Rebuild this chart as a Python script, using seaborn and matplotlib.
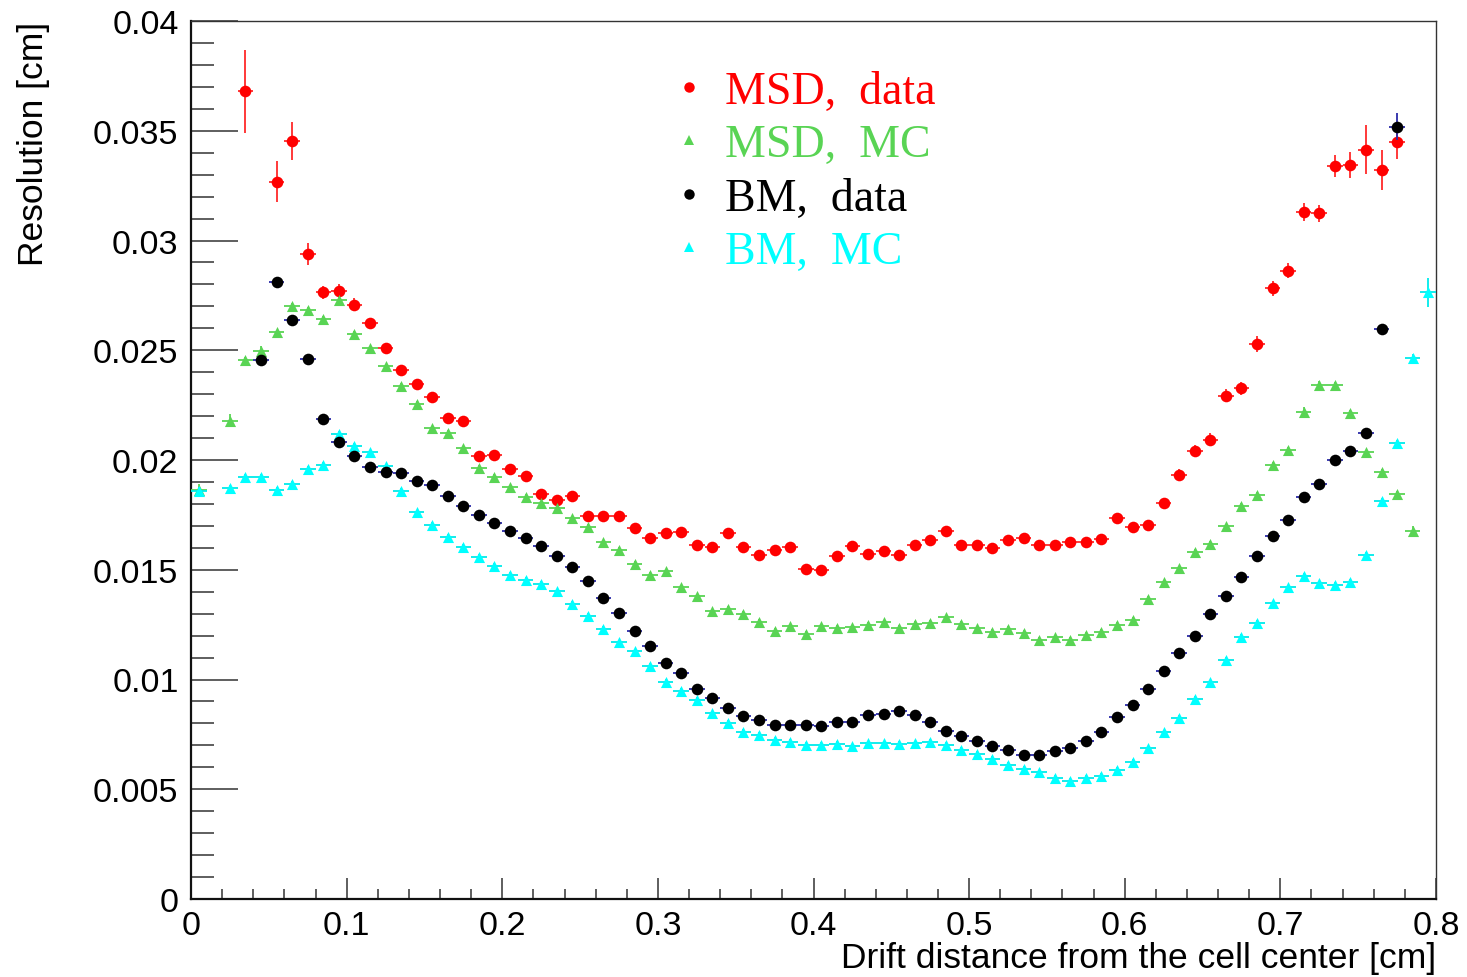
import numpy as np
import pandas as pd
import matplotlib
matplotlib.use("Agg")
import matplotlib.pyplot as plt
from matplotlib.lines import Line2D
from matplotlib.ticker import MultipleLocator, FuncFormatter
import seaborn as sns

nan = np.nan

# bin centres of the 80-bin histograms (cm)
bin_centers = [round(0.005 + 0.01 * i, 3) for i in range(80)]

msd_data = [nan, nan, nan, 0.0368, nan, 0.03268, 0.03455, 0.02938, 0.02764, 0.02771,
            0.02708, 0.02623, 0.02509, 0.02412, 0.02346, 0.02285, 0.02191, 0.02179, 0.0202, 0.02024,
            0.01959, 0.01926, 0.01845, 0.01818, 0.01837, 0.01746, 0.01746, 0.01746, 0.01689, 0.01643,
            0.01666, 0.0167, 0.01613, 0.01605, 0.01666, 0.01605, 0.01567, 0.0159, 0.01605, 0.01503,
            0.01499, 0.01561, 0.01606, 0.01572, 0.01584, 0.01567, 0.01613, 0.01637, 0.01678, 0.01613,
            0.01613, 0.01599, 0.01636, 0.01643, 0.01613, 0.01613, 0.01625, 0.01625, 0.0164, 0.01734,
            0.01693, 0.01704, 0.01803, 0.01932, 0.02042, 0.02093, 0.02293, 0.02326, 0.02528, 0.02782,
            0.02863, 0.03131, 0.03124, 0.03341, 0.03345, 0.03414, 0.03321, 0.03447, nan, nan]

msd_mc = [0.01865, nan, 0.02179, 0.02457, 0.02498, 0.02582, 0.02703, 0.02683, 0.02642, 0.02729,
          0.02574, 0.02509, 0.02427, 0.02339, 0.02255, 0.02144, 0.02124, 0.02053, 0.01964, 0.01924,
          0.01876, 0.01833, 0.01803, 0.0178, 0.01734, 0.01696, 0.01625, 0.0159, 0.01526, 0.01478,
          0.01493, 0.0142, 0.01379, 0.01311, 0.01321, 0.01298, 0.01263, 0.01222, 0.01242, 0.01207,
          0.01242, 0.01235, 0.01238, 0.01248, 0.01261, 0.01235, 0.01253, 0.01257, 0.01283, 0.01253,
          0.01233, 0.01218, 0.0123, 0.01212, 0.01181, 0.01192, 0.01181, 0.01203, 0.01218, 0.01248,
          0.01271, 0.01367, 0.01443, 0.01507, 0.01582, 0.01617, 0.01698, 0.01792, 0.01842, 0.01977,
          0.02047, 0.0222, 0.02342, 0.02342, 0.02214, 0.02035, 0.01947, 0.01845, 0.01678, nan]

bm_data = [nan, nan, nan, nan, 0.02457, 0.02809, 0.02638, 0.0246, 0.02187, 0.02081,
           0.02017, 0.01967, 0.01947, 0.01939, 0.01903, 0.01886, 0.01834, 0.01792, 0.01751, 0.01712,
           0.01678, 0.01643, 0.0161, 0.01564, 0.01511, 0.0145, 0.0137, 0.01302, 0.0122, 0.01154,
           0.01074, 0.01029, 0.00957, 0.00916, 0.0087, 0.00835, 0.00815, 0.00794, 0.00794, 0.00794,
           0.0079, 0.00805, 0.00808, 0.00838, 0.00843, 0.00855, 0.00838, 0.00808, 0.00767, 0.00744,
           0.00721, 0.00698, 0.0068, 0.00657, 0.00657, 0.00676, 0.00686, 0.00721, 0.00759, 0.00831,
           0.00884, 0.00957, 0.01038, 0.01121, 0.012, 0.01298, 0.01382, 0.01468, 0.01564, 0.01652,
           0.01728, 0.01833, 0.01891, 0.02001, 0.02042, 0.02123, 0.02597, 0.03519, nan, nan]

bm_mc = [0.01857, nan, 0.01872, 0.01924, 0.01924, 0.01865, 0.01891, 0.01959, 0.01977, 0.02118,
         0.02065, 0.02035, 0.01971, 0.0186, 0.01762, 0.01705, 0.01649, 0.01605, 0.0156, 0.01519,
         0.01478, 0.01453, 0.01435, 0.01402, 0.01344, 0.01291, 0.0123, 0.01169, 0.01128, 0.01063,
         0.0099, 0.00949, 0.00907, 0.00846, 0.00802, 0.00762, 0.00747, 0.00726, 0.00717, 0.00702,
         0.00702, 0.00706, 0.00696, 0.00709, 0.00709, 0.00706, 0.00709, 0.00717, 0.00703, 0.0068,
         0.00661, 0.00638, 0.0061, 0.00592, 0.00577, 0.00551, 0.00539, 0.00551, 0.00562, 0.00588,
         0.00626, 0.00686, 0.0076, 0.00824, 0.00911, 0.00987, 0.0109, 0.01195, 0.01257, 0.01347,
         0.0142, 0.01473, 0.01438, 0.01432, 0.01446, 0.01567, 0.01814, 0.02076, 0.02465, 0.02764]

# vertical (statistical) errors that are visible in the picture; others are small
small_err = 0.00012
msd_data_err = {3: 0.0019, 5: 0.00093, 6: 0.00087, 7: 0.0005, 8: 0.0003, 9: 0.0003, 10: 0.00028,
                11: 0.00025, 12: 0.0002, 62: 0.0002, 63: 0.00025, 64: 0.00025, 65: 0.0003,
                66: 0.0003, 67: 0.0003, 68: 0.00035, 69: 0.00035, 70: 0.00035, 71: 0.0004,
                72: 0.0004, 73: 0.0005, 74: 0.0006, 75: 0.0011, 76: 0.00093, 77: 0.00076}
msd_mc_err = {0: 0.00025, 2: 0.0003, 4: 0.0002, 71: 0.0002, 72: 0.0002, 78: 0.0002}
bm_data_err = {5: 0.00015, 76: 0.0002, 77: 0.00063}
bm_mc_err = {0: 0.0002, 77: 0.00015, 78: 0.0002, 79: 0.00065}

half_bin = 0.005

labels = ["MSD,  data", "MSD,  MC", "BM,  data", "BM,  MC"]
colors = {"MSD,  data": "#ff0000", "MSD,  MC": "#59d454", "BM,  data": "#000000", "BM,  MC": "#00ffff"}
bar_colors = {"MSD,  data": "#ff2a2a", "MSD,  MC": "#59d454", "BM,  data": "#2b2ba8", "BM,  MC": "#00eaea"}
markers = {"MSD,  data": "o", "MSD,  MC": "^", "BM,  data": "o", "BM,  MC": "^"}
values = {"MSD,  data": msd_data, "MSD,  MC": msd_mc, "BM,  data": bm_data, "BM,  MC": bm_mc}
errors = {"MSD,  data": msd_data_err, "MSD,  MC": msd_mc_err, "BM,  data": bm_data_err, "BM,  MC": bm_mc_err}
draw_order = ["MSD,  data", "MSD,  MC", "BM,  MC", "BM,  data"]

frames = []
for lab in labels:
    frames.append(pd.DataFrame({"x": bin_centers, "y": values[lab], "series": lab,
                                "yerr": [errors[lab].get(i, small_err) for i in range(80)]}))
df = pd.concat(frames, ignore_index=True).dropna(subset=["y"])

sns.set_theme(style="white")
plt.rcParams["font.family"] = ["Liberation Sans", "DejaVu Sans"]

fig = plt.figure(figsize=(14.67, 9.78), dpi=100)
ax = fig.add_axes([191 / 1467, 78 / 978, 1245 / 1467, 878 / 978])

for k, lab in enumerate(draw_order):
    d = df[df["series"] == lab]
    ax.errorbar(d["x"], d["y"], xerr=half_bin, yerr=d["yerr"], fmt="none",
                ecolor=bar_colors[lab], elinewidth=1.3, capsize=0, zorder=2 + 2 * k)
    sns.scatterplot(data=d, x="x", y="y", ax=ax, color=colors[lab], marker=markers[lab],
                    s=70 if markers[lab] == "o" else 64, linewidth=0, legend=False,
                    zorder=3 + 2 * k)

ax.set_xlim(0, 0.8)
ax.set_ylim(0, 0.04)

fmt = FuncFormatter(lambda v, p: "%g" % round(v, 4))
ax.xaxis.set_major_locator(MultipleLocator(0.1))
ax.xaxis.set_minor_locator(MultipleLocator(0.02))
ax.yaxis.set_major_locator(MultipleLocator(0.005))
ax.yaxis.set_minor_locator(MultipleLocator(0.001))
ax.xaxis.set_major_formatter(fmt)
ax.yaxis.set_major_formatter(fmt)

ax.tick_params(axis="y", which="major", direction="in", length=34, width=1.1, color="#333333",
               labelsize=24.5, labelcolor="black", pad=9, left=True, right=False)
ax.tick_params(axis="y", which="minor", direction="in", length=16.5, width=1.1, color="#333333",
               left=True, right=False)
ax.tick_params(axis="x", which="major", direction="in", length=15, width=1.1, color="#333333",
               labelsize=24.5, labelcolor="black", pad=8, bottom=True, top=False)
ax.tick_params(axis="x", which="minor", direction="in", length=7.5, width=1.1, color="#333333",
               bottom=True, top=False)
for side in ["left", "bottom"]:
    ax.spines[side].set_linewidth(1.6)
    ax.spines[side].set_color("#111111")
for side in ["top", "right"]:
    ax.spines[side].set_linewidth(1.0)
    ax.spines[side].set_color("#333333")
ax.grid(False)

ax.set_ylabel("Resolution [cm]", fontsize=25.5, loc="top", color="black")
ax.yaxis.set_label_coords(-0.113, 1.0)
ax.set_xlabel("Drift distance from the cell center [cm]", fontsize=25.5, loc="right", color="black")
ax.xaxis.set_label_coords(1.0, -0.0475)

handles = [Line2D([], [], linestyle="none", marker=markers[lab], color=colors[lab],
                  markersize=7.5, markeredgewidth=0) for lab in labels]
leg = ax.legend(handles, labels, loc="upper left", bbox_to_anchor=(0.367, 0.970),
                frameon=False, handlelength=0.8, handletextpad=0.38, labelspacing=0.24,
                borderpad=0, prop={"family": ["Liberation Serif", "DejaVu Serif"], "size": 33},
                labelcolor=[colors[lab] for lab in labels])

fig.savefig("out.png", dpi=100, facecolor="white")
